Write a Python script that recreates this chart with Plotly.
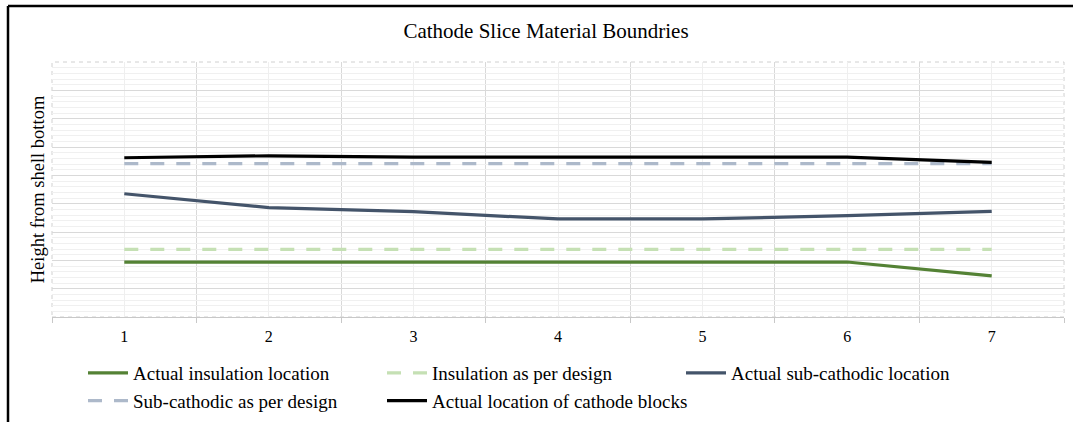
import plotly.graph_objects as go

slices = [1, 2, 3, 4, 5, 6, 7]
tick_labels = ["1", "2", "3", "4", "5", "6", "7"]

actual_insulation = [1.94, 1.94, 1.94, 1.92, 1.93, 1.94, 1.45]
insulation_design = [2.39, 2.39, 2.39, 2.39, 2.39, 2.39, 2.39]
actual_subcathodic = [4.35, 3.86, 3.72, 3.46, 3.46, 3.58, 3.73]
subcathodic_design = [5.41, 5.41, 5.41, 5.41, 5.41, 5.41, 5.41]
actual_cathode_blocks = [5.62, 5.69, 5.64, 5.64, 5.62, 5.64, 5.46]

series = [
    ("Actual insulation location", actual_insulation, "#548235", "solid"),
    ("Insulation as per design", insulation_design, "#c5e0b4", "14px,12px"),
    ("Actual sub-cathodic location", actual_subcathodic, "#44546a", "solid"),
    ("Sub-cathodic as per design", subcathodic_design, "#adb9ca", "14px,12px"),
    ("Actual location of cathode blocks", actual_cathode_blocks, "#000000", "solid"),
]

FONT = "Liberation Serif, Times New Roman, serif"

fig = go.Figure()
for name, vals, color, dash in series:
    fig.add_trace(go.Scatter(
        x=slices, y=vals, mode="lines", name=name,
        line=dict(color=color, width=3.2, dash=dash),
    ))

W, H = 1073, 422
L, R, T, B = 52, 9, 62, 105
pw = W - L - R
ph = H - T - B

def px_x(p):
    return (p - L) / pw

def px_y(p):
    return (H - B - p) / ph

fig.update_layout(
    width=W, height=H,
    margin=dict(l=L, r=R, t=T, b=B, autoexpand=False),
    paper_bgcolor="white", plot_bgcolor="white",
    font=dict(family=FONT, color="#000000", size=16),
    title=dict(
        text="Cathode Slice Material Boundries",
        x=px_x(546), xref="paper", xanchor="center",
        y=1 - 31 / H, yref="container", yanchor="middle",
        font=dict(family=FONT, size=21, color="#000000"),
    ),
    xaxis=dict(
        range=[0.5, 7.5],
        tickmode="array", tickvals=slices, ticktext=tick_labels,
        showgrid=True, gridcolor="#efefef", gridwidth=1,
        ticks="", ticklabelstandoff=5,
        tickfont=dict(family=FONT, size=16, color="#000000"),
        showline=True, linecolor="#c8c8c8", linewidth=1,
        zeroline=False,
        minor=dict(tick0=0.5, dtick=1, showgrid=True, gridcolor="#d9d9d9",
                   gridwidth=1, ticks="outside", ticklen=5, tickcolor="#c8c8c8"),
    ),
    yaxis=dict(
        range=[0, 9],
        dtick=1, tick0=0,
        showgrid=True, gridcolor="#d9d9d9", gridwidth=1,
        showticklabels=False, ticks="",
        zeroline=False, showline=False,
        minor=dict(dtick=0.2, showgrid=True, gridcolor="#f0f0f0", gridwidth=1),
        title=dict(text="Height from shell bottom", standoff=1,
                   font=dict(family=FONT, size=18.5, color="#000000")),
    ),
    legend=dict(
        orientation="h",
        x=px_x(83), xanchor="left",
        y=px_y(354), yanchor="top",
        entrywidth=244, entrywidthmode="pixels",
        font=dict(family=FONT, size=19, color="#000000"),
        bgcolor="rgba(0,0,0,0)",
        itemwidth=40,
        tracegroupgap=0,
    ),
    showlegend=True,
)

# dashed border around the plot area
fig.add_shape(type="rect", xref="paper", yref="paper", x0=0, y0=0, x1=1, y1=1,
              line=dict(color="#d0d0d0", width=1, dash="4px,4px"), layer="below")
# outer chart frame (left and top edges)
fig.add_shape(type="line", xref="paper", yref="paper",
              x0=px_x(8), y0=px_y(430), x1=px_x(8), y1=px_y(6),
              line=dict(color="#000000", width=2.5))
fig.add_shape(type="line", xref="paper", yref="paper",
              x0=px_x(8), y0=px_y(6), x1=px_x(1080), y1=px_y(6),
              line=dict(color="#000000", width=2.5))

fig.write_html("out.html", config={"displayModeBar": False},
               post_script="document.body.style.margin='0';")
